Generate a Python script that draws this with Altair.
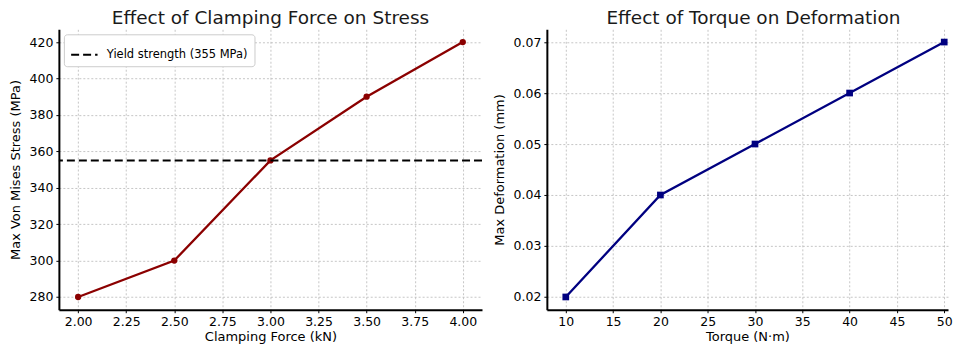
import altair as alt
import pandas as pd

# Left panel data
force = [2.0, 2.5, 3.0, 3.5, 4.0]
stress = [280, 300, 355, 390, 420]
yield_strength = [355]
yield_label = ["Yield strength (355 MPa)"]
force_ticks = [2.0, 2.25, 2.5, 2.75, 3.0, 3.25, 3.5, 3.75, 4.0]
stress_ticks = [280, 300, 320, 340, 360, 380, 400, 420]

# Right panel data
torque = [10, 20, 30, 40, 50]
deformation = [0.02, 0.04, 0.05, 0.06, 0.07]
torque_ticks = [10, 15, 20, 25, 30, 35, 40, 45, 50]
deform_ticks = [0.02, 0.03, 0.04, 0.05, 0.06, 0.07]

FONT = "DejaVu Sans"

df1 = pd.DataFrame({"force": force, "stress": stress})
dfy = pd.DataFrame({"y": yield_strength, "label": yield_label})
df2 = pd.DataFrame({"torque": torque, "deformation": deformation})

def axis(title, values, fmt):
    return alt.Axis(title=title, values=values, format=fmt, grid=True, labelOverlap=False)

x1 = alt.X("force:Q", scale=alt.Scale(domain=[1.9, 4.1], nice=False, zero=False),
           axis=axis("Clamping Force (kN)", force_ticks, ".2f"))
y1 = alt.Y("stress:Q", scale=alt.Scale(domain=[273, 427], nice=False, zero=False),
           axis=axis("Max Von Mises Stress (MPa)", stress_ticks, "d"))

base1 = alt.Chart(df1).encode(x=x1, y=y1)
line1 = base1.mark_line(color="#8b0000", strokeWidth=2.3)
pts1 = base1.mark_point(color="#8b0000", filled=True, opacity=1, size=40, shape="circle")
rule = alt.Chart(dfy).mark_rule(color="black", strokeWidth=2).encode(
    y=alt.Y("y:Q"),
    strokeDash=alt.StrokeDash(
        "label:N",
        scale=alt.Scale(range=[[8, 4]]),
        legend=alt.Legend(
            title=None, orient="top-left", offset=5,
            fillColor="white", strokeColor="#cccccc", cornerRadius=3, padding=6,
            symbolType="stroke", symbolStrokeColor="black", symbolStrokeWidth=2,
            symbolSize=700, symbolOffset=0, labelOffset=8,
            labelFontSize=11.5, labelFont=FONT, labelColor="black",
        ),
    ),
)
left = alt.layer(line1, pts1, rule).properties(
    width=424, height=281,
    title=alt.TitleParams("Effect of Clamping Force on Stress", fontSize=18.5,
                          fontWeight="normal", font=FONT, color="#1a1a1a", offset=2),
)

x2 = alt.X("torque:Q", scale=alt.Scale(domain=[8, 50.4], nice=False, zero=False),
           axis=axis("Torque (N·m)", torque_ticks, "d"))
y2 = alt.Y("deformation:Q", scale=alt.Scale(domain=[0.0175, 0.0725], nice=False, zero=False),
           axis=axis("Max Deformation (mm)", deform_ticks, ".2f"))
base2 = alt.Chart(df2).encode(x=x2, y=y2)
line2 = base2.mark_line(color="#000080", strokeWidth=2.3)
pts2 = base2.mark_point(color="#000080", filled=True, opacity=1, size=45, shape="square")
right = alt.layer(line2, pts2).properties(
    width=402, height=281,
    title=alt.TitleParams("Effect of Torque on Deformation", fontSize=18.5,
                          fontWeight="normal", font=FONT, color="#1a1a1a", offset=2, dx=6),
)

chart = alt.hconcat(left, right, spacing=10).properties(
    padding={"left": 1, "top": 0, "right": 0, "bottom": 0}
).configure_view(stroke=None).configure_axis(
    labelFont=FONT, titleFont=FONT, labelFontSize=12.5, titleFontSize=13,
    labelColor="black", titleColor="black", titleFontWeight="normal",
    domainColor="black", domainWidth=2, tickColor="black", tickSize=3,
    gridColor="#b8b8b8", gridDash=[2, 2], gridWidth=0.8,
    labelPadding=3, labelOverlap=False,
).configure_axisX(titlePadding=2).configure_axisY(titlePadding=7)

chart.save("out.html", embed_options={"renderer": "svg", "actions": False})
